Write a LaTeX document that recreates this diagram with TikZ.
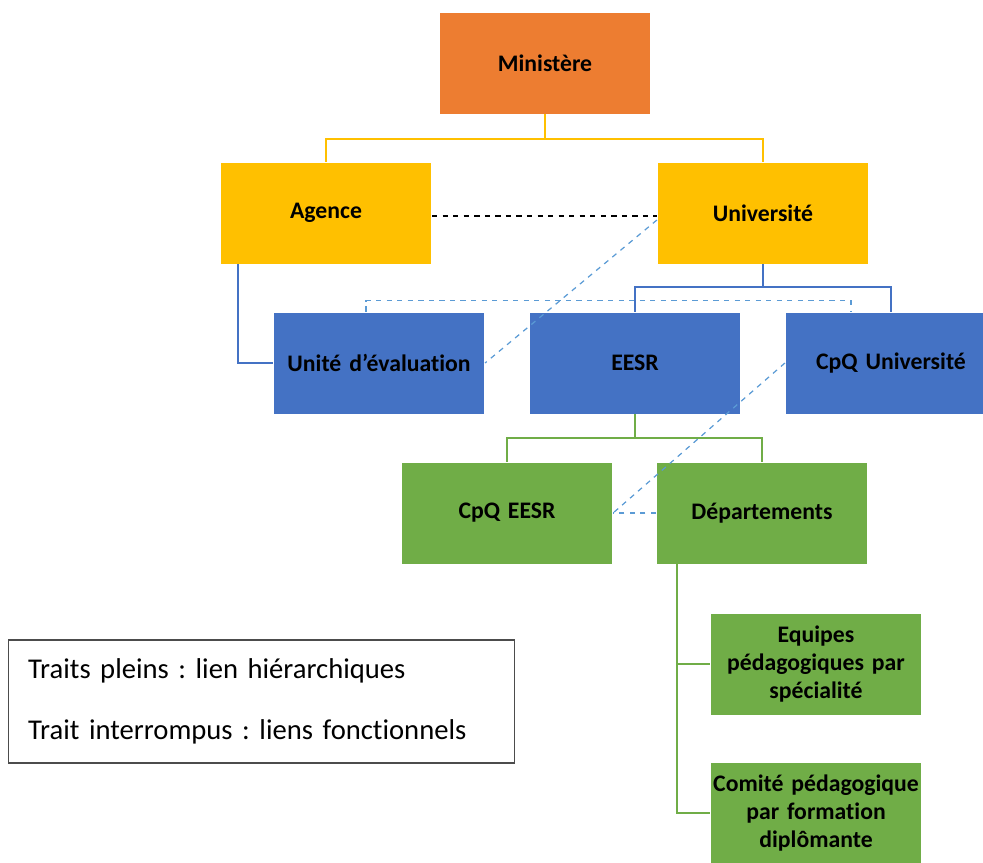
\documentclass[tikz,border=0pt]{standalone}
\usepackage{fontspec}
\setmainfont{Carlito}[Ligatures=NoCommon, Contextuals=NoAlternate]
\usetikzlibrary{positioning}
\definecolor{OrgOrange}{RGB}{237,125,49}
\definecolor{OrgYellow}{RGB}{255,192,0}
\definecolor{OrgBlue}{RGB}{68,114,196}
\definecolor{OrgGreen}{RGB}{112,173,71}
\definecolor{LinkBlue}{RGB}{91,155,213}
\frenchspacing

\tikzset{
  unitbox/.style={draw=white, line width=0.4pt, minimum width=4.18cm, minimum height=2.04cm,
    inner sep=1pt, align=center, text width=4.16cm, font=\fontsize{13.5}{16}\selectfont\bfseries},
  yline/.style={OrgYellow, line width=1.3pt},
  bline/.style={OrgBlue, line width=1.3pt},
  gline/.style={OrgGreen, line width=1.3pt},
  flink/.style={LinkBlue, dashed, line width=0.7pt},
}

\begin{document}
\begin{tikzpicture}[x=0.02cm, y=-0.02cm]
    \useasboundingbox (0,0) rectangle (983,862);
    \clip (0,0) rectangle (983,862);

    % Top levels
    \node[unitbox, fill=OrgOrange] (min) at (545,63) {Ministère};
    \node[unitbox, fill=OrgYellow] (agence) at (326,213) {Agence};
    \node[unitbox, fill=OrgYellow] (univ) at (763,213) {Université};

    % Blue level
    \node[unitbox, fill=OrgBlue] (unite) at (379,363) {Unité d’évaluation};
    \node[unitbox, fill=OrgBlue] (eesr) at (635,363) {EESR};
    \node[unitbox, fill=OrgBlue] (cpqu) at (891,363) {CpQ Université};

    % Green level
    \node[unitbox, fill=OrgGreen] (cpqe) at (507,513) {CpQ EESR};
    \node[unitbox, fill=OrgGreen] (dep) at (762,513) {Départements};
    \node[unitbox, fill=OrgGreen] (equipes) at (816,664) {Equipes\\pédagogiques par\\spécialité};
    \node[unitbox, fill=OrgGreen] (comite) at (816,813) {Comité pédagogique\\par formation\\diplômante};

    % hierarchical links
    \foreach \child in {agence, univ} {
      \draw[yline] (min.south) -- ++(0,25) -| (\child.north);
    }
    \foreach \child in {eesr, cpqu} {
      \draw[bline] (univ.south) -- ++(0,23) -| (\child.north);
    }
    \draw[bline] ([xshift=0.36cm]agence.south west) |- (unite.west);
    \foreach \child in {cpqe, dep} {
      \draw[gline] (eesr.south) -- ++(0,24) -| (\child.north);
    }
    \foreach \child in {equipes, comite} {
      \draw[gline] ([xshift=0.42cm]dep.south west) |- (\child.west);
    }

    % functional links
    \draw[black, dashed, line width=0.7pt] ([yshift=-0.06cm]agence.east) -- ([yshift=-0.06cm]univ.west);
    \draw[flink] ([yshift=-0.14cm]univ.west) -- (unite.east);
    \draw[flink] ([xshift=-0.26cm]unite.north) -- ++(0,-11) -| ([xshift=1.32cm]cpqu.north west);
    \draw[flink] (cpqu.west) -- (cpqe.east);
    \draw[flink] (dep.west) -- (cpqe.east);

    % legend
    \node[draw=black!70, line width=0.6pt, minimum width=10.14cm, minimum height=2.46cm,
      text width=9.34cm, inner xsep=0.4cm, align=left, font=\fontsize{16.3}{19}\selectfont]
      (legende) at (261.5,701.5) {Traits pleins : lien hiérarchiques\\[0.55cm]Trait interrompus : liens fonctionnels};
\end{tikzpicture}
\end{document}
